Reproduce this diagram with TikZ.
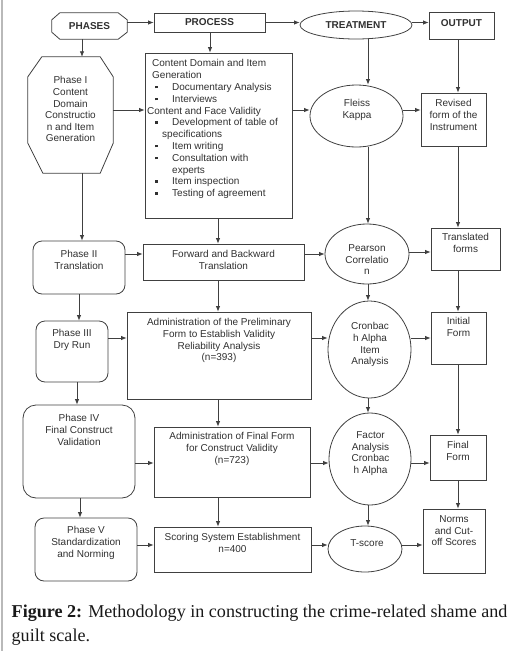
\documentclass[tikz,border=0pt]{standalone}
\usepackage{fontspec}
\setmainfont{Liberation Sans}
\newfontfamily\capfont{Liberation Serif}
\usetikzlibrary{arrows.meta,shapes.geometric}
\definecolor{ln}{HTML}{404040}
\definecolor{tx}{HTML}{303030}
\newcommand\bul{\makebox[20pt][l]{\hspace{3pt}\rule[2pt]{2.6pt}{2.6pt}}}
\begin{document}
\begin{tikzpicture}[x=1pt,y=-1pt,
  font=\fontsize{10}{11.6}\selectfont,
  shp/.style={draw=ln, line width=0.8pt},
  inv/.style={rectangle, inner sep=0pt, text=tx},
  rc/.style={shp, rectangle, inner sep=0pt, text=tx},
  rb/.style={shp, rectangle, rounded corners=9pt, inner sep=0pt},
  el/.style={shp, ellipse, inner sep=0pt, text=tx},
  txt/.style={inner sep=0pt, anchor=north, align=center, text=tx},
  arr/.style={draw=ln, line width=0.8pt, -{Latex[length=5.5pt,width=4.5pt]}}
]
\useasboundingbox (0,0) rectangle (515,651);
\draw[gray!55, line width=2pt] (2,0) -- (2,651);

% ---------- header row ----------
\node[inv, minimum width=75pt, minimum height=26pt] (phases) at (89.5,26) {\bfseries PHASES};
\draw[shp] ([xshift=8pt]phases.north west) -- ([xshift=-9pt]phases.north east)
  -- ([yshift=-7pt]phases.north east) -- ([yshift=7pt]phases.south east)
  -- ([xshift=-9pt]phases.south east) -- ([xshift=8pt]phases.south west)
  -- ([yshift=7pt]phases.south west) -- ([yshift=-7pt]phases.north west) -- cycle;
\node[rc, minimum width=111pt, minimum height=19pt] (process) at (209.5,22.5) {\bfseries PROCESS};
\node[el, minimum width=112pt, minimum height=28pt] (treat) at (356,25) {\bfseries TREATMENT};
\node[rc, minimum width=65pt, minimum height=27pt] (output) at (461.5,25.5) {\raisebox{2.5pt}[\height][\depth]{\bfseries OUTPUT}};

% ---------- phase column ----------
\node[inv, minimum width=85pt, minimum height=116pt] (p1) at (70.5,115) {};
\draw[shp] ([xshift=14pt]p1.north west) -- ([xshift=-13pt]p1.north east)
  -- ([yshift=-20pt]p1.north east) -- ([yshift=30pt]p1.south east)
  -- ([xshift=-13pt]p1.south east) -- ([xshift=15pt]p1.south west)
  -- ([yshift=30pt]p1.south west) -- ([yshift=-20pt]p1.north west) -- cycle;
\node[txt] (p1T) at (70.5,76.4) {Phase I\\Content\\Domain\\Constructio\\n and Item\\Generation};

\node[rb, minimum width=92pt, minimum height=53pt] (p2) at (79,267.5) {};
\node[txt] (p2T) at (79,250.4) {Phase II\\Translation};
\node[rb, minimum width=72pt, minimum height=61pt] (p3) at (72,351.5) {};
\node[txt] (p3T) at (72,329.4) {Phase III\\Dry Run};
\node[rb, rounded corners=13pt, minimum width=112pt, minimum height=93pt] (p4) at (79,451.5) {};
\node[txt] (p4T) at (79,414.4) {Phase IV\\Final Construct\\Validation};
\node[rb, minimum width=102pt, minimum height=63pt] (p5) at (86,549.5) {};
\node[txt] (p5T) at (86,526.4) {Phase V\\Standardization\\and Norming};

% ---------- process column ----------
\node[rc, minimum width=147pt, minimum height=165pt] (b1) at (218.5,135.5) {};
\node[inner sep=0pt, anchor=north west, align=left, text=tx, font=\fontsize{10}{11.8}\selectfont] (b1T) at (152,59.4) {%
Content Domain and Item\\
Generation\\
\bul Documentary Analysis\\
\bul Interviews\\
\hspace*{-5pt}Content and Face Validity\\
\bul Development of table of\\
\hspace*{10pt}specifications\\
\bul Item writing\\
\bul Consultation with\\
\hspace*{20pt}experts\\
\bul Item inspection\\
\bul Testing of agreement};
\node[rc, minimum width=161pt, minimum height=36pt] (fwd) at (223.5,262) {};
\node[txt] (fwdT) at (223.5,250.4) {Forward and Backward\\Translation};
\node[rc, minimum width=184pt, minimum height=87pt] (adm1) at (219,355.5) {};
\node[txt] (adm1T) at (219,318.4) {Administration of the Preliminary\\Form to Establish Validity\\Reliability Analysis\\(n=393)};
\node[rc, minimum width=156pt, minimum height=70pt] (adm2) at (232,462) {};
\node[txt] (adm2T) at (232,432.4) {Administration of Final Form\\for Construct Validity\\(n=723)};
\node[rc, minimum width=157pt, minimum height=45pt] (score) at (232.5,549.5) {};
\node[txt] (scoreT) at (232.5,533.4) {Scoring System Establishment\\n=400};

% ---------- treatment column ----------
\node[el, minimum width=93pt, minimum height=62pt] (fleiss) at (356.5,116) {};
\node[txt] (fleissT) at (357,99.4) {Fleiss\\Kappa};
\node[el, minimum width=84pt, minimum height=60pt] (pear) at (367,254) {};
\node[txt] (pearT) at (367,244.4) {Pearson\\Correlatio\\n};
\node[el, minimum width=83pt, minimum height=97pt] (cron) at (369.5,349.5) {};
\node[txt] (cronT) at (370,322.4) {Cronbac\\h Alpha\\Item\\Analysis};
\node[el, minimum width=82pt, minimum height=92pt] (fact) at (370,459) {};
\node[txt] (factT) at (370.5,431.4) {Factor\\Analysis\\Cronbac\\h Alpha};
\node[el, minimum width=74pt, minimum height=46pt] (tsc) at (365,549) {};
\node[txt] (tscT) at (367,539.4) {T-score};

% ---------- output column ----------
\node[rc, minimum width=65pt, minimum height=53pt] (rev) at (453.5,119.5) {};
\node[txt] (revT) at (453.5,99.4) {Revised\\form of the\\Instrument};
\node[rc, minimum width=69pt, minimum height=42pt] (trans) at (465.5,249) {};
\node[txt] (transT) at (465.5,233.4) {Translated\\forms};
\node[rc, minimum width=55pt, minimum height=52pt] (init) at (458.5,338) {};
\node[txt] (initT) at (458.5,317.4) {Initial\\Form};
\node[rc, minimum width=56pt, minimum height=45pt] (final) at (458,457.5) {};
\node[txt] (finalT) at (458,441.4) {Final\\Form};
\node[rc, minimum width=62pt, minimum height=64pt] (norms) at (454,541) {};
\node[txt] (normsT) at (454,515.4) {Norms\\and Cut-\\off Scores};

% ---------- guide coordinates ----------
\coordinate (y0) at (0,22.5);
\coordinate (y1) at (0,110);
\coordinate (y2) at (0,254);
\coordinate (y2b) at (0,252);
\coordinate (y3) at (0,338);
\coordinate (y4) at (0,463);
\coordinate (y5) at (0,545);
\coordinate (xa) at (82,0);
\coordinate (xb) at (79,0);
\coordinate (xc) at (77,0);
\coordinate (xd) at (80,0);
\coordinate (xp) at (210,0);
\coordinate (xq) at (218,0);
\coordinate (xt) at (368,0);
\coordinate (xo) at (458,0);

% ---------- horizontal connectors ----------
\draw[arr] (phases.east |- y0) -- (process.west |- y0);
\draw[arr] (process.east |- y0) -- (treat.west |- y0);
\draw[arr] (treat.east |- y0) -- (output.west |- y0);
\draw[arr] (p1.east |- y1) -- (b1.west |- y1);
\draw[arr] (b1.east |- y1) -- (fleiss.west |- y1);
\draw[arr] (fleiss.east |- y1) -- (rev.west |- y1);
\draw[arr] (p2.east |- y2) -- (fwd.west |- y2);
\draw[arr] (fwd.east |- y2) -- (pear.west |- y2);
\draw[arr] (pear.east |- y2b) -- (trans.west |- y2b);
\draw[arr] (p3.east |- y3) -- (adm1.west |- y3);
\draw[arr] (adm1.east |- y3) -- (cron.west |- y3);
\draw[arr] (cron.east |- y3) -- (init.west |- y3);
\draw[arr] (p4.east |- y4) -- (adm2.west |- y4);
\draw[arr] (adm2.east |- y4) -- (fact.west |- y4);
\draw[arr] (fact.east |- y4) -- (final.west |- y4);
\draw[arr] (p5.east |- y5) -- (score.west |- y5);
\draw[arr] (score.east |- y5) -- (tsc.west |- y5);
\draw[arr] (tsc.east |- y5) -- (norms.west |- y5);

% ---------- vertical connectors ----------
\draw[arr] (phases.south -| xa) -- (p1.north -| xa);
\draw[arr] (p1.south -| xa) -- (p2.north -| xa);
\draw[arr] (p2.south -| xb) -- (p3.north -| xb);
\draw[arr] (p3.south -| xc) -- (p4.north -| xc);
\draw[arr] (p4.south -| xd) -- (p5.north -| xd);
\draw[arr] (process.south -| xp) -- (b1.north -| xp);
\draw[arr] (b1.south -| xq) -- (fwd.north -| xq);
\draw[arr] (fwd.south -| xq) -- (adm1.north -| xq);
\draw[arr] (adm1.south -| xq) -- (adm2.north -| xq);
\draw[arr] (adm2.south -| xq) -- (score.north -| xq);
\draw[arr] (treat.south -| xt) -- (fleiss.north -| xt);
\draw[arr] (fleiss.south -| xt) -- (pear.north -| xt);
\draw[arr] (pear.south -| xt) -- (cron.north -| xt);
\draw[arr] (cron.south -| xt) -- (fact.north -| xt);
\draw[arr] (fact.south -| xt) -- (tsc.north -| xt);
\draw[arr] (output.south -| xo) -- (rev.north -| xo);
\draw[arr] (rev.south -| xo) -- (trans.north -| xo);
\draw[arr] (trans.south -| xo) -- (init.north -| xo);
\draw[arr] (init.south -| xo) -- (final.north -| xo);
\draw[arr] (final.south -| xo) -- (norms.north -| xo);

% ---------- caption ----------
\node[anchor=north west, inner sep=0pt, align=left, text=black!90,
      font=\capfont\fontsize{18.1}{24.5}\selectfont] (cap) at (11.5,604.5)
  {\textbf{Figure 2:} Methodology in constructing the crime-related shame and\\guilt scale.};
\end{tikzpicture}
\end{document}
